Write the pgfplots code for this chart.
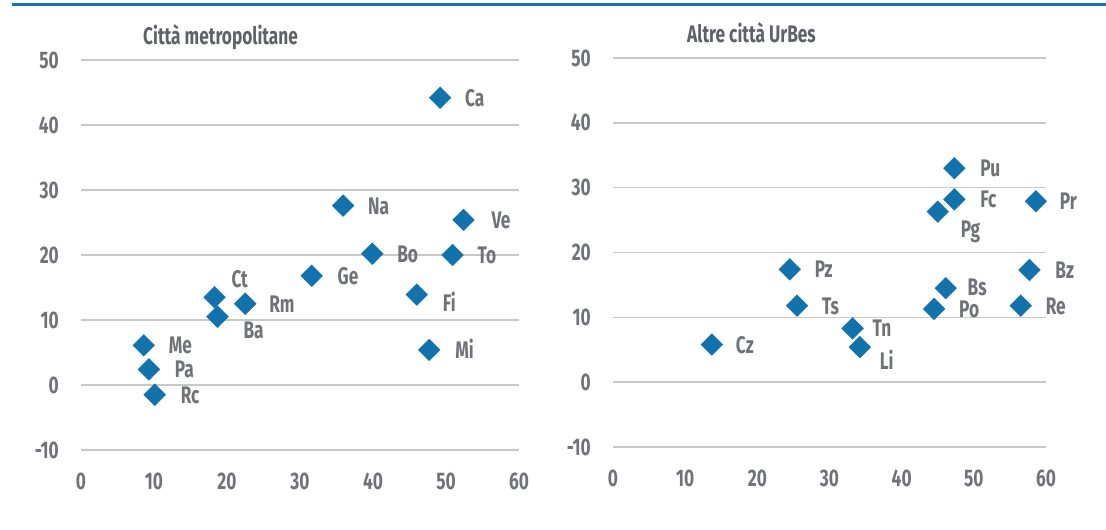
\documentclass[border=0pt]{standalone}
\usepackage{fontspec}
\setmainfont{Fira Sans}[FakeStretch=0.72]
\usepackage{pgfplots}
\pgfplotsset{compat=1.18}
\definecolor{mblue}{RGB}{17,114,172}
\definecolor{tgray}{RGB}{112,114,120}
\definecolor{ggray}{RGB}{200,200,200}
\definecolor{topblue}{RGB}{26,114,176}
\pgfplotsset{myax/.style={
  scale only axis, clip=false,
  xmin=0, xmax=60, ymin=-10, ymax=50,
  xtick={0,10,...,60}, ytick={-10,0,...,50},
  axis line style={draw=none}, tick style={draw=none},
  ymajorgrids, major grid style={ggray, line width=1.6pt},
  /pgf/number format/assume math mode=true,
  tick label style={font=\fontsize{24}{24}\selectfont\bfseries, text=tgray, inner sep=0pt},
  yticklabel style={anchor=east, xshift=-22pt},
  xticklabel style={anchor=north, yshift=-23pt},
}}
\pgfplotsset{mypts/.style={
  color=mblue,
  only marks, mark=square*, mark size=7.8pt,
  mark options={rotate=45, fill=mblue, draw=mblue, line width=0.1pt},
  nodes near coords, point meta=explicit symbolic,
  visualization depends on={value \thisrow{dx}\as\dx},
  visualization depends on={value \thisrow{dy}\as\dy},
  every node near coord/.append style={anchor=base west, inner sep=0pt,
    xshift=\dx pt, yshift=\dy pt, font=\fontsize{24}{24}\selectfont\bfseries, text=tgray},
}}
\begin{document}
\begin{tikzpicture}
\useasboundingbox (0,0) rectangle (1106pt,530pt);
\draw[line width=3pt, topblue] (11.5pt,525.3pt) -- (1106pt,525.3pt);
\node[anchor=base west, inner sep=0pt, text=tgray!85!black, font=\fontsize{24}{24}\selectfont\bfseries] at (143pt,485.5pt) {Città metropolitane};
\node[anchor=base west, inner sep=0pt, text=tgray!85!black, font=\fontsize{24}{24}\selectfont\bfseries] at (687pt,487.5pt) {Altre città UrBes};
\begin{axis}[myax, at={(81pt,80pt)}, anchor=south west, width=438pt, height=390pt]
\addplot[mypts] table[x=x, y=y, meta=lab] {
x y lab dx dy
49.2 44.2 Ca 25 -8.5
35.9 27.6 Na 25 -8.5
52.4 25.4 Ve 28 -8.5
39.9 20.2 Bo 25 -8.5
50.9 20.0 To 25 -8.5
31.6 16.8 Ge 26 -8.5
18.3 13.5 Ct 17 9.5
22.5 12.5 Rm 24 -8.5
18.7 10.5 Ba 26 -21.5
46.0 13.9 Fi 26 -16.5
47.7 5.4 Mi 26 -8.5
8.6 6.1 Me 25 -8.5
9.3 2.4 Pa 26 -8.5
10.1 -1.5 Rc 26 -8.5
};
\end{axis}
\begin{axis}[myax, at={(613pt,83pt)}, anchor=south west, width=433pt, height=389pt]
\addplot[mypts] table[x=x, y=y, meta=lab] {
x y lab dx dy
47.3 33.0 Pu 26 -8.5
47.3 28.2 Fc 26 -8.5
45.0 26.3 Pg 23 -25.5
58.6 27.9 Pr 24 -8.5
24.5 17.4 Pz 25 -8.5
57.7 17.3 Bz 26 -8.5
46.1 14.5 Bs 22 -7.5
25.5 11.8 Ts 25 -8.5
44.5 11.3 Po 25 -8.5
56.5 11.8 Re 25 -8.5
33.2 8.3 Tn 20 -8.5
34.2 5.4 Li 20 -22.5
13.7 5.8 Cz 24 -8.5
};
\end{axis}
\end{tikzpicture}
\end{document}
